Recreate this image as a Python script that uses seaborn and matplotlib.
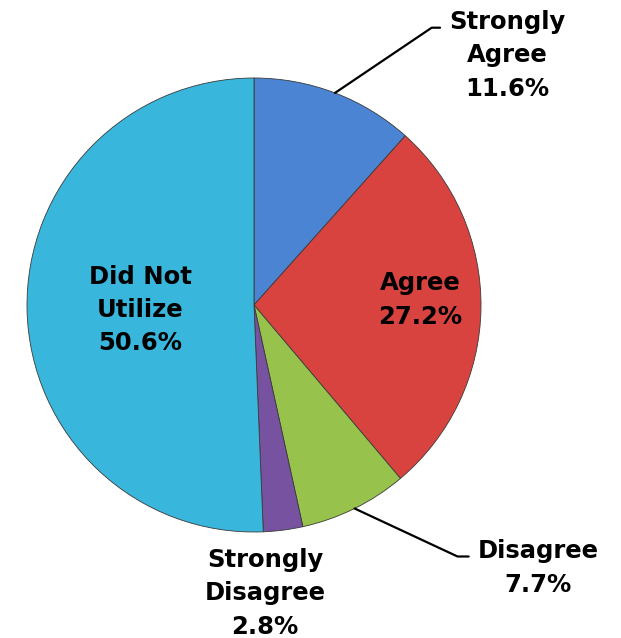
import matplotlib.pyplot as plt
import numpy as np
import seaborn as sns

categories = ['Strongly\nAgree', 'Agree', 'Disagree', 'Strongly\nDisagree', 'Did Not\nUtilize']
shares = [11.6, 27.2, 7.7, 2.8, 50.6]
slice_colors = ['#4a84d2', '#d8433f', '#97c24b', '#7652a0', '#38b6dc']

sns.set_style('white')
plt.rcParams['font.family'] = ['DejaVu Sans']

W, H = 621, 638
fig = plt.figure(figsize=(W / 100, H / 100), dpi=100)
ax = fig.add_axes([0, 0, 1, 1])

# pie centre / radius in pixel units (y measured upward)
cx, cy, R = 254, H - 305, 227

wedges, _ = ax.pie(shares, colors=sns.color_palette(slice_colors), startangle=90,
                   counterclock=False, center=(cx, cy), radius=R,
                   wedgeprops=dict(edgecolor='#3a3a3a', linewidth=0.6))
# pie() resets the limits, so set them afterwards
ax.set_xlim(0, W)
ax.set_ylim(0, H)
ax.set_aspect('equal')
ax.axis('off')

def mid_angle(w):
    return np.deg2rad((w.theta1 + w.theta2) / 2)

def edge_point(w, f=1.0):
    a = mid_angle(w)
    return cx + f * R * np.cos(a), cy + f * R * np.sin(a)

lab = [f'{c}\n{v:.1f}%' for c, v in zip(categories, shares)]
font = dict(fontsize=17.5, fontweight='bold', color='black', ha='center', va='center',
            linespacing=1.5)

# inside labels
ax.text(420, H - 300, lab[1], **font)
ax.text(140, H - 310, lab[4], **font)
# outside labels
ax.text(265, H - 593, lab[3], **font)

ax.annotate(lab[0], xy=edge_point(wedges[0]), xytext=(507, H - 55), **font,
            arrowprops=dict(arrowstyle='-', color='black', lw=1.6, shrinkA=4, shrinkB=0,
                            relpos=(0, 0.8),
                            connectionstyle='angle,angleA=0,angleB=34,rad=0'))
ax.annotate(lab[2], xy=edge_point(wedges[2]), xytext=(538, H - 568), **font,
            arrowprops=dict(arrowstyle='-', color='black', lw=1.6, shrinkA=4, shrinkB=0,
                            relpos=(0, 0.7),
                            connectionstyle='angle,angleA=0,angleB=-25,rad=0'))

fig.savefig('out.png', dpi=100)
